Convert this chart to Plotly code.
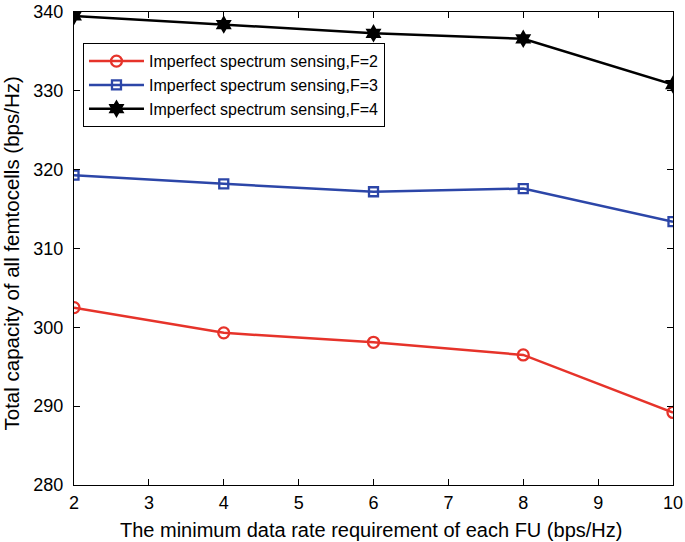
import plotly.graph_objects as go

x_vals = [2, 4, 6, 8, 10]
f2_vals = [302.5, 299.3, 298.1, 296.5, 289.2]
f3_vals = [319.3, 318.2, 317.2, 317.6, 313.4]
f4_vals = [339.5, 338.4, 337.3, 336.6, 330.8]
names = ["Imperfect spectrum sensing,F=2", "Imperfect spectrum sensing,F=3", "Imperfect spectrum sensing,F=4"]
x_title = "The minimum data rate requirement of each FU (bps/Hz)"
y_title = "Total capacity of all femtocells (bps/Hz)"

fig = go.Figure()
fig.add_trace(go.Scatter(x=x_vals, y=f2_vals, name=names[0], mode="lines+markers",
                         line=dict(color="#e6332a", width=2.5),
                         marker=dict(symbol="circle-open", size=11, color="#e6332a", line=dict(width=2.3))))
fig.add_trace(go.Scatter(x=x_vals, y=f3_vals, name=names[1], mode="lines+markers",
                         line=dict(color="#2c46a8", width=2.5),
                         marker=dict(symbol="square-open", size=9, color="#2c46a8", line=dict(width=2.3))))
fig.add_trace(go.Scatter(x=x_vals, y=f4_vals, name=names[2], mode="lines+markers",
                         line=dict(color="#000000", width=2.5),
                         marker=dict(symbol="hexagram", size=14, color="#000000")))

font = "Liberation Sans, Arial, Helvetica, sans-serif"
axis_common = dict(showgrid=False, zeroline=False, showline=True, linecolor="black", linewidth=1,
                   mirror="ticks", ticks="inside", ticklen=6, tickcolor="black", automargin=False,
                   tickfont=dict(family=font, size=18, color="black"))
fig.update_xaxes(range=[2, 10], dtick=1, ticklabelstandoff=1, **axis_common)
fig.update_yaxes(range=[280, 340], dtick=10, ticklabelstandoff=6, **axis_common)

fig.add_annotation(text=x_title, xref="paper", yref="paper", x=0.496, y=-0.0951,
                   xanchor="center", yanchor="middle", showarrow=False,
                   font=dict(family=font, size=20, color="black"))
fig.add_annotation(text=y_title, xref="paper", yref="paper", x=-0.1035, y=0.4894,
                   xanchor="center", yanchor="middle", showarrow=False, textangle=-90,
                   font=dict(family=font, size=20.5, color="black"))

fig.update_layout(width=685, height=542, margin=dict(l=74, r=12, t=12, b=57),
                  plot_bgcolor="white", paper_bgcolor="white",
                  font=dict(family=font, color="black"),
                  legend=dict(x=0.015, y=0.934, xanchor="left", yanchor="top",
                              bgcolor="white", bordercolor="black", borderwidth=1,
                              font=dict(family=font, size=16, color="black"),
                              tracegroupgap=0, itemwidth=55))
fig.write_html("out.html", config={"displayModeBar": False},
               post_script="document.body.style.margin='0';document.body.style.overflow='hidden';")
